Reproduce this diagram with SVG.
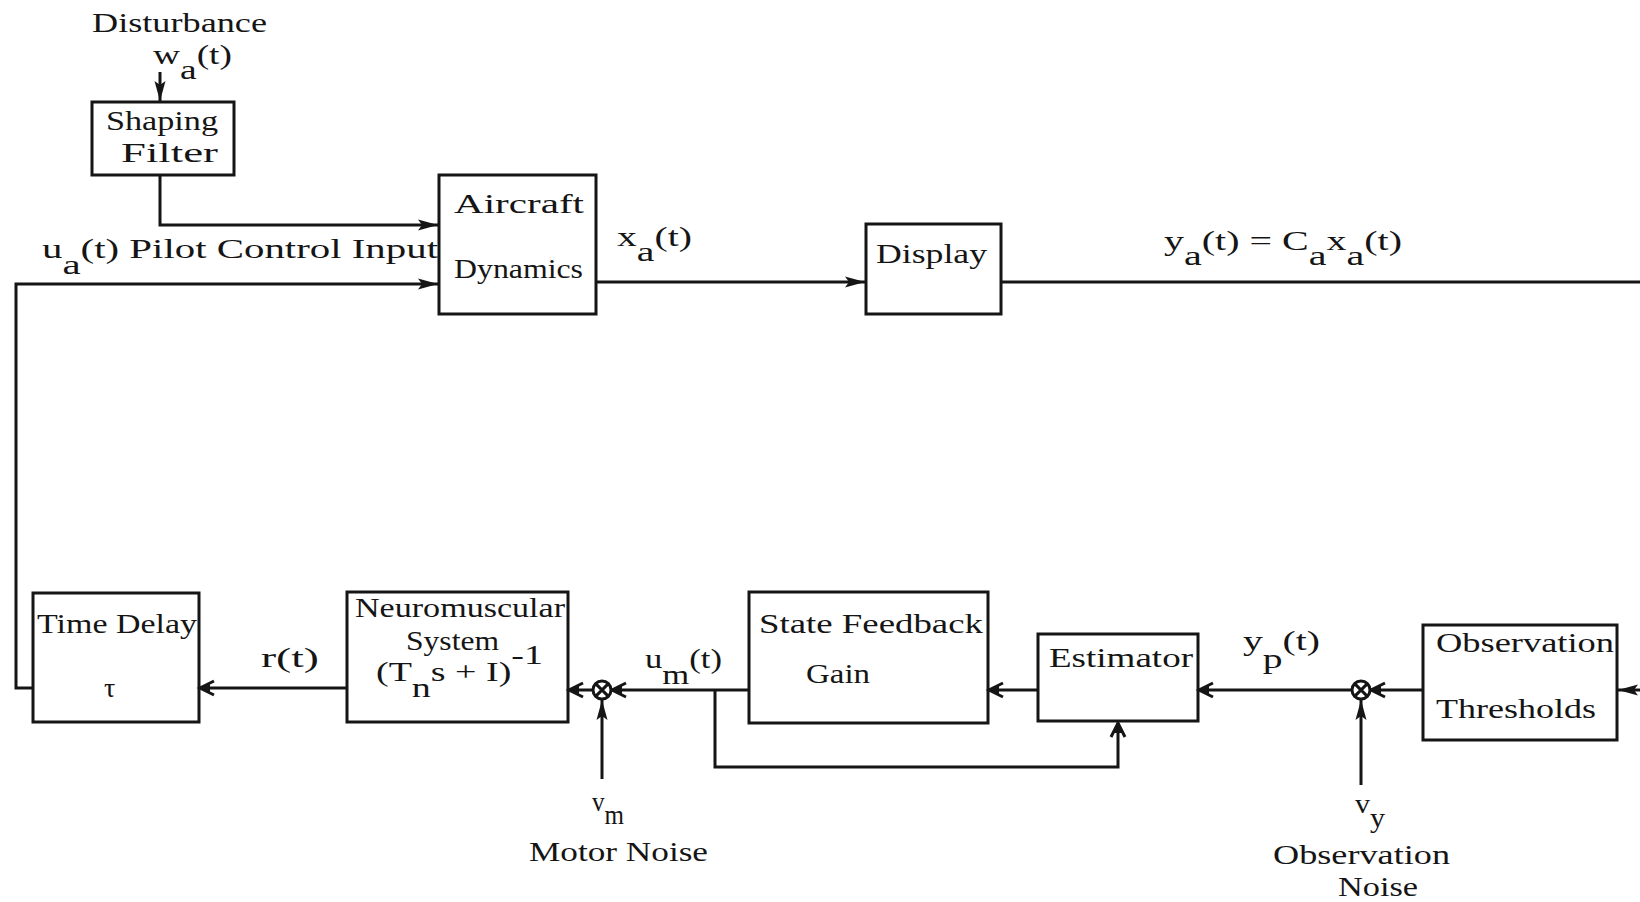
<svg xmlns="http://www.w3.org/2000/svg" width="1640" height="902" viewBox="0 0 1640 902">
<style>
.t{font-family:"Liberation Serif","Times New Roman",serif;font-size:28px;fill:#151515}
.box{fill:none;stroke:#151515;stroke-width:3}
.ln{fill:none;stroke:#151515;stroke-width:3}
.sj{fill:#fff;stroke:#151515;stroke-width:3}
</style>
<defs>
<marker id="tri" markerUnits="userSpaceOnUse" markerWidth="22" markerHeight="14" refX="20" refY="7" orient="auto">
<path d="M0,1.5 L20,7 L0,12.5 L4,7 Z" fill="#151515"/>
</marker>
<marker id="chev" markerUnits="userSpaceOnUse" markerWidth="22" markerHeight="18" refX="18" refY="9" orient="auto">
<path d="M4,2 L18,9 L4,16" fill="none" stroke="#151515" stroke-width="3"/>
<path d="M8,5 L18,9 L8,13 Z" fill="#151515"/>
</marker>
</defs>
<rect width="1640" height="902" fill="#fff"/>

<g id="connectors">
<path class="ln" d="M160,72 V101" marker-end="url(#tri)"/>
<path class="ln" d="M160,175 V225 H438" marker-end="url(#tri)"/>
<path class="ln" d="M33,688 H16 V284 H438" marker-end="url(#tri)"/>
<path class="ln" d="M596,282 H865" marker-end="url(#tri)"/>
<path class="ln" d="M1001,282 H1640"/>
<path class="ln" d="M1640,690 H1618" marker-end="url(#tri)"/>
<path class="ln" d="M1423,690 H1371" marker-end="url(#chev)"/>
<path class="ln" d="M1361,785 V700" marker-end="url(#tri)"/>
<path class="ln" d="M1351,690 H1199" marker-end="url(#chev)"/>
<path class="ln" d="M1038,690 H989" marker-end="url(#chev)"/>
<path class="ln" d="M749,690 H612" marker-end="url(#chev)"/>
<path class="ln" d="M715,690 V767 H1118 V723" marker-end="url(#chev)"/>
<path class="ln" d="M602,779 V700" marker-end="url(#tri)"/>
<path class="ln" d="M592,690 H569" marker-end="url(#chev)"/>
<path class="ln" d="M347,688 H200" marker-end="url(#chev)"/>
</g>

<g id="disturbance">
<text class="t" x="92" y="32" textLength="175" lengthAdjust="spacingAndGlyphs">Disturbance</text>
<text class="t" x="153" y="64" textLength="79" lengthAdjust="spacingAndGlyphs">w<tspan dy="15">a</tspan><tspan dy="-15">(t)</tspan></text>
</g>

<g id="shaping-filter">
<rect class="box" x="92" y="102" width="142" height="73"/>
<text class="t" x="106" y="130" textLength="112" lengthAdjust="spacingAndGlyphs">Shaping</text>
<text class="t" x="121" y="162" textLength="97" lengthAdjust="spacingAndGlyphs">Filter</text>
</g>

<g id="aircraft-dynamics">
<rect class="box" x="439" y="175" width="157" height="139"/>
<text class="t" x="454" y="213" textLength="130" lengthAdjust="spacingAndGlyphs">Aircraft</text>
<text class="t" x="454" y="278" textLength="129" lengthAdjust="spacingAndGlyphs">Dynamics</text>
</g>

<g id="label-ua">
<text class="t" x="42" y="258" textLength="396" lengthAdjust="spacingAndGlyphs">u<tspan dy="16">a</tspan><tspan dy="-16">(t) Pilot Control Input</tspan></text>
</g>

<g id="label-xa">
<text class="t" x="617" y="246" textLength="75" lengthAdjust="spacingAndGlyphs">x<tspan dy="15">a</tspan><tspan dy="-15">(t)</tspan></text>
</g>

<g id="display">
<rect class="box" x="866" y="224" width="135" height="90"/>
<text class="t" x="876" y="263" textLength="111" lengthAdjust="spacingAndGlyphs">Display</text>
</g>

<g id="label-ya">
<text class="t" x="1164" y="250" textLength="238" lengthAdjust="spacingAndGlyphs">y<tspan dy="15">a</tspan><tspan dy="-15">(t) = C</tspan><tspan dy="15">a</tspan><tspan dy="-15">x</tspan><tspan dy="15">a</tspan><tspan dy="-15">(t)</tspan></text>
</g>

<g id="time-delay">
<rect class="box" x="33" y="593" width="166" height="129"/>
<text class="t" x="37" y="633" textLength="160" lengthAdjust="spacingAndGlyphs">Time Delay</text>
<text class="t" x="104" y="697">τ</text>
</g>

<g id="label-r">
<text class="t" x="261" y="667" textLength="58" lengthAdjust="spacingAndGlyphs">r(t)</text>
</g>

<g id="neuromuscular">
<rect class="box" x="347" y="592" width="221" height="130"/>
<text class="t" x="355" y="617" textLength="210" lengthAdjust="spacingAndGlyphs">Neuromuscular</text>
<text class="t" x="406" y="650" textLength="93" lengthAdjust="spacingAndGlyphs">System</text>
<text class="t" x="376" y="681" textLength="167" lengthAdjust="spacingAndGlyphs">(T<tspan dy="16">n</tspan><tspan dy="-16">s + I)</tspan><tspan dy="-17">-1</tspan></text>
</g>

<g id="sum-motor">
<circle class="sj" cx="602" cy="690" r="9"/>
<path class="ln" stroke-width="2.5" d="M595.6,683.6 L608.4,696.4 M608.4,683.6 L595.6,696.4"/>
</g>

<g id="label-vm">
<text class="t" x="592" y="811" textLength="32" lengthAdjust="spacingAndGlyphs">v<tspan dy="13">m</tspan></text>
<text class="t" x="529" y="861" textLength="179" lengthAdjust="spacingAndGlyphs">Motor Noise</text>
</g>

<g id="label-um">
<text class="t" x="645" y="668" textLength="77" lengthAdjust="spacingAndGlyphs">u<tspan dy="16">m</tspan><tspan dy="-16">(t)</tspan></text>
</g>

<g id="state-feedback-gain">
<rect class="box" x="749" y="592" width="239" height="131"/>
<text class="t" x="759" y="633" textLength="224" lengthAdjust="spacingAndGlyphs">State Feedback</text>
<text class="t" x="806" y="683" textLength="64" lengthAdjust="spacingAndGlyphs">Gain</text>
</g>

<g id="estimator">
<rect class="box" x="1038" y="634" width="160" height="87"/>
<text class="t" x="1049" y="667" textLength="144" lengthAdjust="spacingAndGlyphs">Estimator</text>
</g>

<g id="label-yp">
<text class="t" x="1243" y="650" textLength="77" lengthAdjust="spacingAndGlyphs">y<tspan dy="18">p</tspan><tspan dy="-18">(t)</tspan></text>
</g>

<g id="sum-observation">
<circle class="sj" cx="1361" cy="690" r="9"/>
<path class="ln" stroke-width="2.5" d="M1354.6,683.6 L1367.4,696.4 M1367.4,683.6 L1354.6,696.4"/>
</g>

<g id="label-vy">
<text class="t" x="1355" y="813" textLength="30" lengthAdjust="spacingAndGlyphs">v<tspan dy="14">y</tspan></text>
<text class="t" x="1273" y="864" textLength="177" lengthAdjust="spacingAndGlyphs">Observation</text>
<text class="t" x="1338" y="896" textLength="80" lengthAdjust="spacingAndGlyphs">Noise</text>
</g>

<g id="observation-thresholds">
<rect class="box" x="1423" y="625" width="194" height="115"/>
<text class="t" x="1436" y="652" textLength="178" lengthAdjust="spacingAndGlyphs">Observation</text>
<text class="t" x="1436" y="718" textLength="160" lengthAdjust="spacingAndGlyphs">Thresholds</text>
</g>
</svg>
